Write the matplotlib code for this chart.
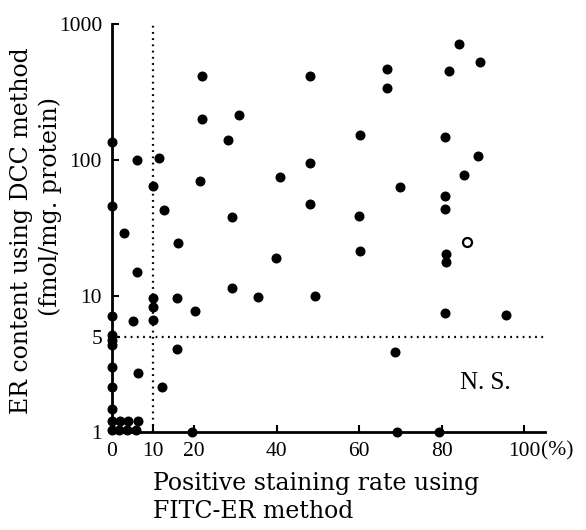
import matplotlib
matplotlib.use("Agg")
import matplotlib.pyplot as plt

plt.rcParams['font.family'] = ['Liberation Serif', 'DejaVu Serif']

# filled points: positive staining rate (%) vs ER content (fmol/mg protein)
xs = [0, 0, 0, 0, 0, 0, 0, 0, 0, 0, 0,
      2, 4, 6.3, 1.8, 3.8, 5.8,
      3.0, 6.2, 6.2, 5.1, 6.4,
      10, 10, 10, 10,
      11.5, 12.6, 12.3,
      16.0, 15.8, 15.8,
      20.1, 19.5,
      21.8, 21.8, 21.4,
      28.1, 30.9, 29.1, 29.1,
      35.4, 39.8, 40.7,
      48.1, 48.1, 48.1, 49.4,
      60.2, 60.0, 60.2,
      66.8, 66.8, 69.9, 68.8, 69.1,
      79.3, 80.7, 81.1, 81.1, 80.7, 80.9, 80.9, 81.8,
      84.3, 85.5, 88.9, 89.2, 95.6]
ys = [136, 46, 7.1, 5.2, 4.75, 4.36, 3.0, 2.15, 1.48, 1.2, 1.03,
      1.2, 1.2, 1.2, 1.03, 1.03, 1.03,
      29, 100, 15, 6.5, 2.7,
      64, 9.7, 8.3, 6.7,
      103, 43, 2.15,
      24.5, 9.7, 4.1,
      7.7, 1.0,
      415, 199, 70,
      139, 214, 38, 11.4,
      9.9, 19.1, 75,
      415, 95, 47, 10,
      152, 38.7, 21.5,
      464, 337, 63, 3.9, 1.0,
      1.0, 7.5, 20.3, 17.9, 54.6, 43.8, 147, 454,
      713, 78, 106, 526, 7.3]

# open circle
open_x = [86.1]
open_y = [25.1]

xticks = [0, 10, 20, 40, 60, 80, 100]
xticklabels = ['0', '10', '20', '40', '60', '80', '100']
yticks = [1, 5, 10, 100, 1000]
yticklabels = ['1', '5', '10', '100', '1000']

fig = plt.figure(figsize=(5.86, 5.3), dpi=100)
ax = fig.add_axes([0.1906, 0.185, 0.739, 0.770])

ax.set_yscale('log')
ax.set_xlim(0, 105)
ax.set_ylim(1, 1000)

ax.axvline(10, color='black', lw=1.6, ls=(0, (0.8, 2.0)), zorder=1)
ax.axhline(5, color='black', lw=1.6, ls=(0, (0.8, 2.0)), zorder=1)

ax.plot(xs, ys, 'o', color='black', ms=6.2, clip_on=False, zorder=3)
ax.plot(open_x, open_y, 'o', mfc='white', mec='black', mew=1.6, ms=6.5,
        clip_on=False, zorder=3)

ax.set_xticks(xticks)
ax.set_xticklabels(xticklabels)
ax.set_yticks(yticks)
ax.set_yticklabels(yticklabels)
ax.minorticks_off()
ax.tick_params(direction='in', length=5, width=1.5, labelsize=15.5, pad=7)

for s in ['top', 'right']:
    ax.spines[s].set_visible(False)
for s in ['left', 'bottom']:
    ax.spines[s].set_linewidth(2)

ax.annotate('(%)', xy=(100, 1), xycoords='data', xytext=(12, -7),
            textcoords='offset points', fontsize=15.5, ha='left', va='top',
            annotation_clip=False)

ax.text(90.5, 2.29, 'N. S.', fontsize=18, ha='center', va='center')

serif = ['DejaVu Serif']
fig.text(153 / 586, 1 - 490 / 530, 'Positive staining rate using',
         fontsize=17, ha='left', va='baseline', family=serif)
fig.text(153 / 586, 1 - 518 / 530, 'FITC-ER method',
         fontsize=17, ha='left', va='baseline', family=serif)
fig.text(22 / 586, 1 - 231 / 530, 'ER content using DCC method',
         fontsize=17, ha='center', va='center', rotation=90, family=serif)
fig.text(50 / 586, 1 - 207 / 530, '(fmol/mg. protein)',
         fontsize=17, ha='center', va='center', rotation=90, family=serif)

fig.savefig('out.png', dpi=100)
